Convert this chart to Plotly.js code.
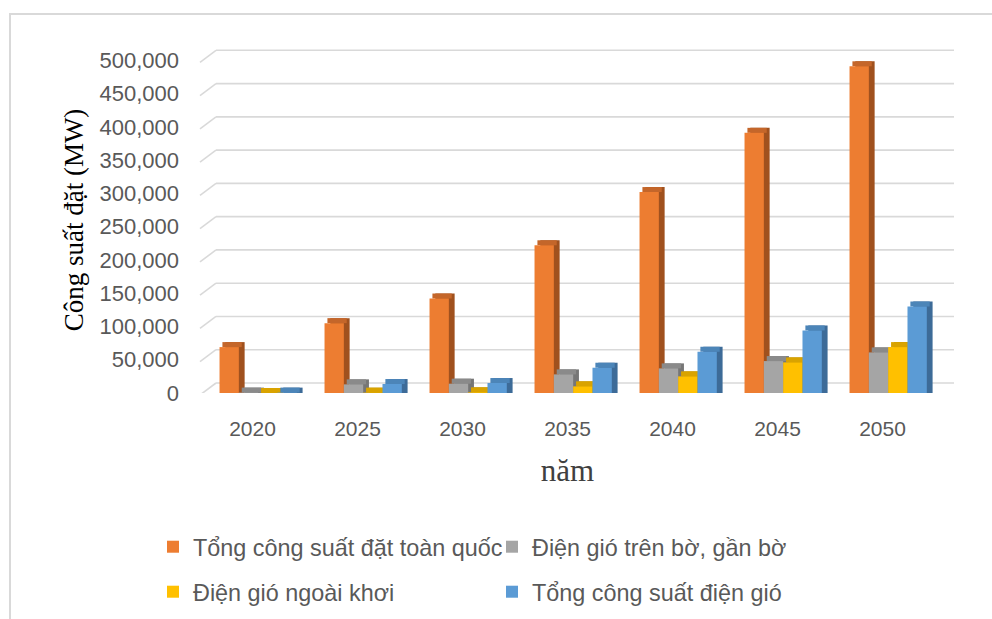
<!DOCTYPE html>
<html>
<head>
<meta charset="utf-8">
<script src="https://cdn.plot.ly/plotly-3.0.1.min.js"></script>
<style>
  html, body { margin: 0; padding: 0; background: #ffffff; }
  #chart { width: 992px; height: 619px; position: relative; }
  #frame { position: absolute; left: 9px; top: 13px; width: 990px; height: 620px;
           border-left: 2px solid #D9D9D9; border-top: 2px solid #D9D9D9; pointer-events: none; z-index: 5; }
</style>
</head>
<body>
<div id="chart"></div>
<div id="frame"></div>
<script>
// ---- data ----
const years = ['2020', '2025', '2030', '2035', '2040', '2045', '2050'];
const totalCapacity = [69000, 105000, 142000, 222000, 302000, 391000, 491000];
const onshoreWind   = [600, 13000, 14000, 28000, 37000, 48000, 61000];
const offshoreWind  = [0, 500, 1000, 10000, 25000, 46000, 69000];
const totalWind     = [600, 13500, 15000, 38000, 62000, 94000, 130000];
const seriesNames = ['Tổng công suất đặt toàn quốc', 'Điện gió trên bờ, gần bờ', 'Điện gió ngoài khơi', 'Tổng công suất điện gió'];
const yTickVals = [0, 50000, 100000, 150000, 200000, 250000, 300000, 350000, 400000, 450000, 500000];
const yTickText = ['0', '50,000', '100,000', '150,000', '200,000', '250,000', '300,000', '350,000', '400,000', '450,000', '500,000'];

// ---- styling ----
const frontColors = ['#ED7D31', '#A5A5A5', '#FFC000', '#5B9BD5'];
const topColors   = ['#C4662A', '#8A8A8A', '#D9A300', '#4C85B8'];
const sideColors  = ['#A0511E', '#767676', '#B88A00', '#3D6B98'];
const seriesValues = [totalCapacity, onshoreWind, offshoreWind, totalWind];
const barWidth = 0.184;
const firstOffset = -0.314;
const depthX = 0.055;    // category units (~6 px)
const depthY = 7500;     // value units (~5 px)

const traces = [];
// side faces
seriesValues.forEach((vals, i) => {
  traces.push({
    type: 'bar', x: years, y: vals.map(v => v + depthY), base: 0,
    width: barWidth, offset: firstOffset + i * barWidth + depthX,
    marker: { color: sideColors[i], line: { width: 0 } },
    showlegend: false, hoverinfo: 'skip'
  });
});
// top faces
seriesValues.forEach((vals, i) => {
  traces.push({
    type: 'bar', x: years, y: vals.map(() => depthY), base: vals,
    width: barWidth, offset: firstOffset + i * barWidth + depthX / 2,
    marker: { color: topColors[i], line: { width: 0 } },
    showlegend: false, hoverinfo: 'skip'
  });
});
// front faces
seriesValues.forEach((vals, i) => {
  traces.push({
    type: 'bar', x: years, y: vals, name: seriesNames[i],
    width: barWidth, offset: firstOffset + i * barWidth,
    marker: { color: frontColors[i], line: { width: 0 } },
    legend: i < 2 ? 'legend' : 'legend2'
  });
});

// 3D-style gridlines (back wall) built from the tick values
const shapes = [];
yTickVals.forEach(v => {
  const common = { type: 'line', xref: 'paper', yref: 'y', xsizemode: 'pixel', xanchor: 0,
                   ysizemode: 'pixel', yanchor: v, layer: 'below',
                   line: { color: '#D9D9D9', width: 1.6 } };
  shapes.push(Object.assign({}, common, { x0: 0, x1: 16, y0: -2, y1: 10 }));
  shapes.push(Object.assign({}, common, { x0: 16, x1: 754, y0: 10, y1: 10 }));
});

const legendFont = { family: 'Liberation Sans, Arial, sans-serif', size: 23.4, color: '#595959' };
const layout = {
  width: 992, height: 619,
  margin: { l: 200, r: 57, t: 47, b: 226 },
  paper_bgcolor: '#ffffff', plot_bgcolor: 'rgba(0,0,0,0)',
  barmode: 'overlay',
  showlegend: true,
  xaxis: {
    type: 'category', range: [-0.5, 6.5], showgrid: false, zeroline: false, showline: false,
    ticks: '', ticklabelstandoff: 21,
    tickfont: { family: 'Liberation Sans, Arial, sans-serif', size: 21, color: '#595959' },
    title: { text: 'năm', standoff: 20, font: { family: 'Liberation Serif, Times New Roman, serif', size: 31, color: '#404040' } }
  },
  yaxis: {
    range: [0, 520000], tickvals: yTickVals, ticktext: yTickText,
    showgrid: false, zeroline: false, showline: false, ticks: '', ticklabelstandoff: 20,
    tickfont: { family: 'Liberation Sans, Arial, sans-serif', size: 22, color: '#595959' },
    title: { text: 'Công suất đặt (MW)', standoff: 8, font: { family: 'Liberation Serif, Times New Roman, serif', size: 27, color: '#000000' } }
  },
  legend: {
    orientation: 'h', xref: 'container', yref: 'container',
    x: 153 / 992, xanchor: 'left', y: 1 - 547 / 619, yanchor: 'middle',
    entrywidth: 294, font: legendFont, bgcolor: 'rgba(0,0,0,0)', traceorder: 'normal'
  },
  legend2: {
    orientation: 'h', xref: 'container', yref: 'container',
    x: 153 / 992, xanchor: 'left', y: 1 - 592 / 619, yanchor: 'middle',
    entrywidth: 294, font: legendFont, bgcolor: 'rgba(0,0,0,0)', traceorder: 'normal'
  },
  shapes: shapes
};

Plotly.newPlot('chart', traces, layout, { displayModeBar: false, staticPlot: true });
</script>
</body>
</html>
